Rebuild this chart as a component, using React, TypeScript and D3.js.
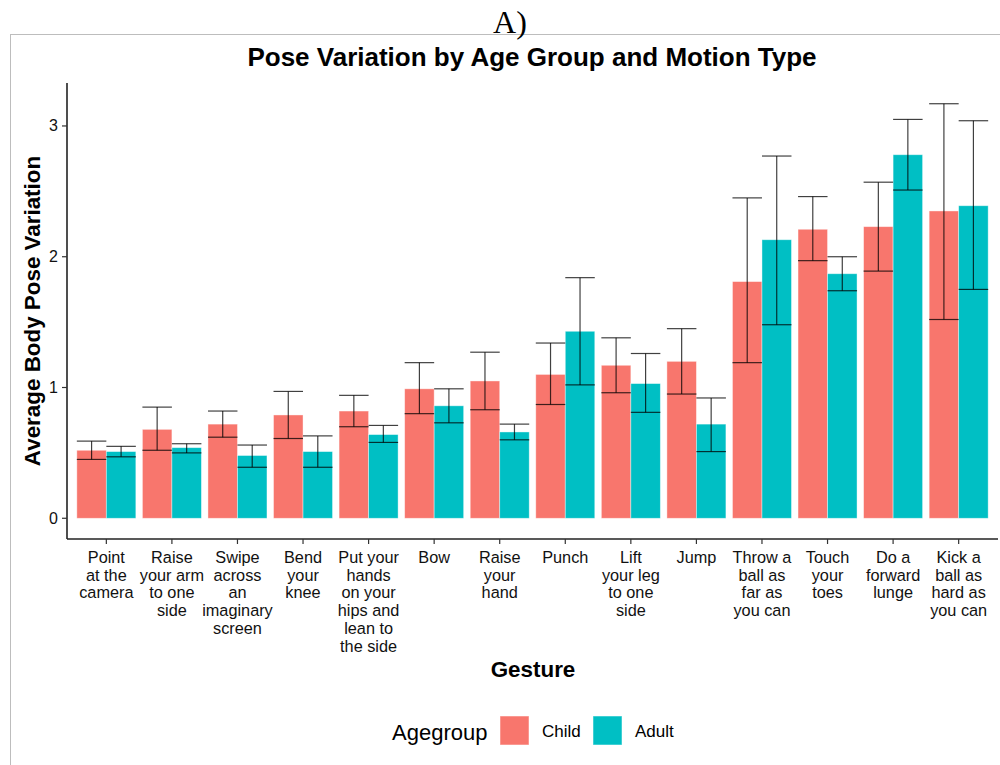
import React, { useRef, useEffect } from 'react';
import * as d3 from 'd3';

const gestures = [
  'Point\nat the\ncamera',
  'Raise\nyour arm\nto one\nside',
  'Swipe\nacross\nan\nimaginary\nscreen',
  'Bend\nyour\nknee',
  'Put your\nhands\non your\nhips and\nlean to\nthe side',
  'Bow',
  'Raise\nyour\nhand',
  'Punch',
  'Lift\nyour leg\nto one\nside',
  'Jump',
  'Throw a\nball as\nfar as\nyou can',
  'Touch\nyour\ntoes',
  'Do a\nforward\nlunge',
  'Kick a\nball as\nhard as\nyou can'
];
const groups = ['Child', 'Adult'];
const groupColors = ['#F8766D', '#00BFC4'];

const childMean = [0.52, 0.68, 0.72, 0.79, 0.82, 0.99, 1.05, 1.10, 1.17, 1.20, 1.81, 2.21, 2.23, 2.35];
const childLow = [0.45, 0.52, 0.62, 0.61, 0.70, 0.80, 0.83, 0.87, 0.96, 0.95, 1.19, 1.97, 1.89, 1.52];
const childHigh = [0.59, 0.85, 0.82, 0.97, 0.94, 1.19, 1.27, 1.34, 1.38, 1.45, 2.45, 2.46, 2.57, 3.17];
const adultMean = [0.51, 0.54, 0.48, 0.51, 0.64, 0.86, 0.66, 1.43, 1.03, 0.72, 2.13, 1.87, 2.78, 2.39];
const adultLow = [0.47, 0.50, 0.39, 0.39, 0.58, 0.73, 0.60, 1.02, 0.81, 0.51, 1.48, 1.74, 2.51, 1.75];
const adultHigh = [0.55, 0.57, 0.56, 0.63, 0.71, 0.99, 0.72, 1.84, 1.26, 0.92, 2.77, 2.00, 3.05, 3.04];
const yTicks = [0, 1, 2, 3];

const App: React.FC = () => {
  const ref = useRef<SVGSVGElement | null>(null);

  useEffect(() => {
    const W = 1000;
    const H = 765;
    const left = 67;
    const right = 998;
    const top = 83;
    const bottom = 539;
    const font = 'Liberation Sans, Arial, sans-serif';

    const svg = d3.select(ref.current);
    svg.selectAll('*').remove();
    svg.attr('width', W).attr('height', H);
    svg.append('rect').attr('width', W).attr('height', H).attr('fill', 'white');

    // outer panel frame
    svg.append('rect')
      .attr('x', 10.5).attr('y', 34.5).attr('width', 1000).attr('height', 800)
      .attr('fill', 'none').attr('stroke', '#bdbdbd').attr('stroke-width', 1);

    svg.append('text')
      .attr('x', 510).attr('y', 33).attr('text-anchor', 'middle')
      .attr('font-family', 'Liberation Serif, Times New Roman, serif').attr('font-size', 32)
      .text('A)');

    const rows = gestures.map((g, i) => ({
      g,
      vals: [
        { k: 0, m: childMean[i], lo: childLow[i], hi: childHigh[i] },
        { k: 1, m: adultMean[i], lo: adultLow[i], hi: adultHigh[i] }
      ]
    }));

    const maxV = d3.max([...childHigh, ...adultHigh])!;
    const pad = maxV * 0.05;
    const y = d3.scaleLinear().domain([-pad, maxV + pad]).range([bottom, top]);

    // discrete axis with ggplot-like 0.6 unit expansion on both sides
    const n = gestures.length;
    const step = (right - left) / (n - 1 + 1.2);
    const x = d3.scaleBand<string>()
      .domain(gestures)
      .range([left + 0.6 * step - step / 2, right - 0.6 * step + step / 2])
      .paddingInner(0.1).paddingOuter(0.05);
    const inner = d3.scaleBand<number>().domain([0, 1]).range([0, x.bandwidth()]);

    const g = svg.append('g');
    const grp = g.selectAll('g.grp').data(rows).enter().append('g')
      .attr('transform', (d) => `translate(${x(d.g)},0)`);

    grp.selectAll('rect').data((d) => d.vals).enter().append('rect')
      .attr('x', (d) => inner(d.k)!)
      .attr('width', inner.bandwidth())
      .attr('y', (d) => y(d.m))
      .attr('height', (d) => y(0) - y(d.m))
      .attr('fill', (d) => groupColors[d.k])
      .attr('stroke', 'white').attr('stroke-opacity', 0.5).attr('stroke-width', 0.8);

    const eb = grp.selectAll('g.eb').data((d) => d.vals).enter().append('g')
      .attr('stroke', 'black').attr('stroke-opacity', 0.75).attr('stroke-width', 1.2);
    eb.append('line')
      .attr('x1', (d) => inner(d.k)! + inner.bandwidth() / 2)
      .attr('x2', (d) => inner(d.k)! + inner.bandwidth() / 2)
      .attr('y1', (d) => y(d.lo)).attr('y2', (d) => y(d.hi));
    eb.append('line')
      .attr('x1', (d) => inner(d.k)!).attr('x2', (d) => inner(d.k)! + inner.bandwidth())
      .attr('y1', (d) => y(d.lo)).attr('y2', (d) => y(d.lo));
    eb.append('line')
      .attr('x1', (d) => inner(d.k)!).attr('x2', (d) => inner(d.k)! + inner.bandwidth())
      .attr('y1', (d) => y(d.hi)).attr('y2', (d) => y(d.hi));

    // axes
    svg.append('line').attr('x1', left).attr('x2', left).attr('y1', top).attr('y2', bottom)
      .attr('stroke', '#222').attr('stroke-width', 1.6);
    svg.append('line').attr('x1', left).attr('x2', right).attr('y1', bottom).attr('y2', bottom)
      .attr('stroke', '#222').attr('stroke-width', 1.6);

    const yt = svg.append('g').selectAll('g').data(yTicks).enter().append('g');
    yt.append('line').attr('x1', left - 5).attr('x2', left).attr('y1', (d) => y(d)).attr('y2', (d) => y(d))
      .attr('stroke', '#333').attr('stroke-width', 1.2);
    yt.append('text').attr('x', left - 9).attr('y', (d) => y(d) + 5.5).attr('text-anchor', 'end')
      .attr('font-family', font).attr('font-size', 16).attr('fill', '#111').text((d) => d);

    const xt = svg.append('g').selectAll('g').data(gestures).enter().append('g')
      .attr('transform', (d) => `translate(${x(d)! + x.bandwidth() / 2},0)`);
    xt.append('line').attr('y1', bottom).attr('y2', bottom + 5).attr('stroke', '#333').attr('stroke-width', 1.2);
    xt.append('text').attr('text-anchor', 'middle').attr('font-family', font).attr('font-size', 16.3).attr('fill', '#111')
      .selectAll('tspan').data((d) => d.split('\n')).enter().append('tspan')
      .attr('x', 0).attr('y', (_d, i) => 563 + i * 17.7).text((d) => d);

    svg.append('text').attr('x', 532).attr('y', 66).attr('text-anchor', 'middle')
      .attr('font-family', font).attr('font-weight', 'bold').attr('font-size', 26)
      .text('Pose Variation by Age Group and Motion Type');

    svg.append('text').attr('x', 533).attr('y', 677).attr('text-anchor', 'middle')
      .attr('font-family', font).attr('font-weight', 'bold').attr('font-size', 22.4).text('Gesture');

    svg.append('text')
      .attr('transform', `translate(40,${(top + bottom) / 2}) rotate(-90)`)
      .attr('text-anchor', 'middle').attr('font-family', font).attr('font-weight', 'bold').attr('font-size', 22.4)
      .text('Average Body Pose Variation');

    // legend
    svg.append('text').attr('x', 392).attr('y', 740).attr('font-family', font).attr('font-size', 22).text('Agegroup');
    const legX = [500, 593];
    groups.forEach((name, i) => {
      svg.append('rect').attr('x', legX[i]).attr('y', 716).attr('width', 29).attr('height', 29)
        .attr('fill', groupColors[i]).attr('stroke', 'white').attr('stroke-opacity', 0.5);
      svg.append('text').attr('x', legX[i] + 42).attr('y', 737).attr('font-family', font).attr('font-size', 17)
        .text(name);
    });
  }, []);

  return <svg ref={ref} style={{ position: 'absolute', left: 0, top: 0 }} />;
};

export default App;
